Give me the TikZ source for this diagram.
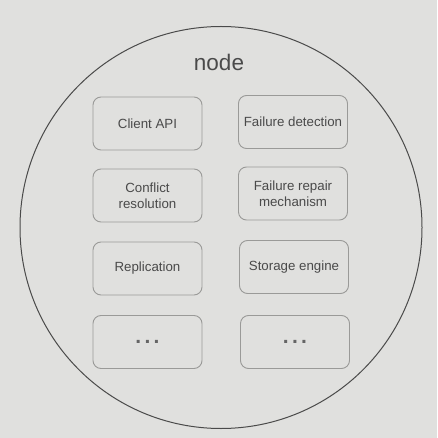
\documentclass[tikz,border=0pt]{standalone}
\usepackage{fontspec}
\setmainfont{Liberation Sans}
\definecolor{paper}{HTML}{E0E0DE}
\definecolor{boxline}{HTML}{9A9A98}
\definecolor{ink}{HTML}{4A4A4A}
\definecolor{circ}{HTML}{4A4A4A}
\newcommand{\mydots}{{\bfseries\fontsize{21}{21}\selectfont .\hspace{3.3pt}.\hspace{3.3pt}.}}
\begin{document}
\begin{tikzpicture}[x=1pt,y=-1pt,
  comp/.style={draw=boxline, line width=0.9pt, rounded corners=8pt, fill=paper,
    minimum width=109pt, minimum height=53pt, align=center, text=ink,
    font=\fontsize{13.3}{16}\selectfont, inner sep=2pt}]
\fill[paper] (0,0) rectangle (437,438);
\useasboundingbox (0,0) rectangle (437,438);
\node[draw=circ, line width=1pt, circle, minimum size=402pt, inner sep=0pt] (nodecircle) at (221,227.5) {};
\node[text=ink, font=\fontsize{22.5}{26}\selectfont] (nodelabel) at (219,62) {node};
\node[comp] (api) at (147.5,123.5) {Client API};
\node[comp] (fd) at (293,122) {Failure detection};
\node[comp] (cr) at (147.5,195.5) {Conflict\\resolution};
\node[comp] (frm) at (293,193.5) {Failure repair\\mechanism};
\node[comp] (rep) at (147.5,268.5) {Replication};
\node[comp] (se) at (294,267) {Storage engine};
\node[comp, text=ink!85] (d1) at (147.5,342) {\mydots};
\node[comp, text=ink!85] (d2) at (295,342) {\mydots};
\end{tikzpicture}
\end{document}
